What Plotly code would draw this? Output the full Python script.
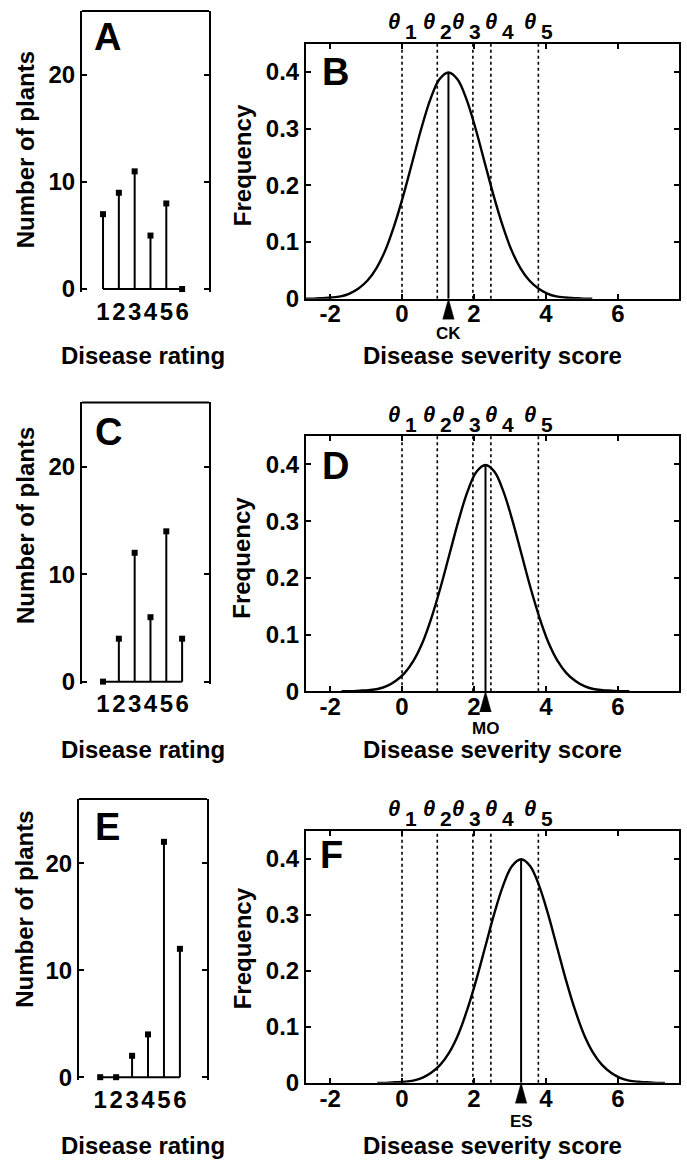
import plotly.graph_objects as go

# ---------------- data ----------------
ratings = [1, 2, 3, 4, 5, 6]
rating_tick_labels = ["1", "2", "3", "4", "5", "6"]
plants_CK = [7, 9, 11, 5, 8, 0]
plants_MO = [0, 4, 12, 6, 14, 4]
plants_ES = [0, 0, 2, 4, 22, 12]
count_ticks = [0, 10, 20]
count_tick_labels = ["0", "10", "20"]

thresholds = [0.0, 0.98, 1.97, 2.47, 3.79]
threshold_subscripts = ["1", "2", "3", "4", "5"]
severity_ticks = [-2, 0, 2, 4, 6]
severity_tick_labels = ["-2", "0", "2", "4", "6"]
freq_ticks = [0, 0.1, 0.2, 0.3, 0.4]
freq_tick_labels = ["0", "0.1", "0.2", "0.3", "0.4"]

groups = ["CK", "MO", "ES"]
group_means = [1.29, 2.32, 3.31]
group_counts = [plants_CK, plants_MO, plants_ES]
letters_left = ["A", "C", "E"]
letters_right = ["B", "D", "F"]

# density profile (offset from the group mean -> frequency)
curve_offsets = [-4.0, -3.75, -3.5, -3.25, -3.0, -2.75, -2.5, -2.25, -2.0, -1.75,
                 -1.5, -1.25, -1.0, -0.75, -0.5, -0.25, 0.0, 0.25, 0.5, 0.75,
                 1.0, 1.25, 1.5, 1.75, 2.0, 2.25, 2.5, 2.75, 3.0, 3.25, 3.5,
                 3.75, 4.0]
curve_density = [0.000, 0.000, 0.001, 0.002, 0.004, 0.009, 0.018, 0.032, 0.054,
                 0.086, 0.130, 0.183, 0.242, 0.301, 0.352, 0.387, 0.399, 0.387,
                 0.352, 0.301, 0.242, 0.183, 0.130, 0.086, 0.054, 0.032, 0.018,
                 0.009, 0.004, 0.002, 0.001, 0.000, 0.000]

# ---------------- layout (pixels of the 687x1171 page) ----------------
W, H = 687, 1171
FONT = "Liberation Sans"
COUNT_RANGE = [-0.25, 26]
RATING_RANGE = [-0.33, 7.7]
SEV_RANGE = [-2.67, 7.7]
FREQ_RANGE = [0, 0.45]

rows = [
    dict(left=(82, 209, 11, 295), right=(306, 679, 44, 302),
         letL=(92, 37), letR=(320, 73), ytitL=152, ytitR=167,
         xtit=359, glab=35),
    dict(left=(82, 209, 407, 692), right=(306, 679, 441, 699),
         letL=(93, 437), letR=(320, 471), ytitL=532, ytitR=564,
         xtit=758, glab=37),
    dict(left=(79, 207, 808, 1092), right=(306, 679, 840, 1095),
         letL=(93, 836), letR=(318, 865), ytitL=920, ytitR=959,
         xtit=1158, glab=39),
]
theta_shift = [0, 0, -7, 8, 0]


def px(x):
    return x / W


def py(y):
    return 1 - y / H


def ax_names(n):
    s = "" if n == 1 else str(n)
    return "x" + s, "y" + s, "xaxis" + s, "yaxis" + s


fig = go.Figure()
layout = {}
shapes = []
annotations = []
black = "black"
tickfont = dict(family=FONT, size=24, color=black, weight="bold")

for i, row in enumerate(rows):
    counts = group_counts[i]
    mean = group_means[i]
    nL, nR, nT = 2 * i + 1, 2 * i + 2, 7 + i
    xL, yL, kxL, kyL = ax_names(nL)
    xR, yR, kxR, kyR = ax_names(nR)
    xT, yT, kxT, kyT = ax_names(nT)

    # ----- left panel: stem plot -----
    l, r, t, b = row["left"]
    layout[kxL] = dict(domain=[px(l), px(r)], range=RATING_RANGE, anchor=yL,
                       tickvals=ratings, ticktext=rating_tick_labels, ticks="",
                       showline=False, showgrid=False, zeroline=False,
                       tickfont=tickfont, ticklabelstandoff=3)
    layout[kyL] = dict(domain=[py(b), py(t)], range=COUNT_RANGE, anchor=xL,
                       tickvals=count_ticks, ticktext=count_tick_labels,
                       ticks="inside", ticklen=5, tickwidth=1.5, tickcolor=black,
                       showline=True, linewidth=2, linecolor=black, mirror="ticks",
                       showgrid=False, zeroline=False, tickfont=tickfont)
    shapes.append(dict(type="line", xref=xL + " domain", yref=yL + " domain",
                       x0=0, x1=1, y0=1, y1=1, line=dict(color=black, width=2)))
    sx, sy = [], []
    for rt, v in zip(ratings, counts):
        sx += [rt, rt, None]
        sy += [0, v, None]
    fig.add_trace(go.Scatter(x=sx, y=sy, mode="lines", xaxis=xL, yaxis=yL,
                             line=dict(color=black, width=2), hoverinfo="skip",
                             showlegend=False))
    fig.add_trace(go.Scatter(x=[ratings[0], ratings[-1]], y=[0, 0], mode="lines",
                             xaxis=xL, yaxis=yL, line=dict(color=black, width=2),
                             hoverinfo="skip", showlegend=False))
    fig.add_trace(go.Scatter(x=ratings, y=counts, mode="markers", xaxis=xL, yaxis=yL,
                             marker=dict(symbol="square", size=6, color=black),
                             cliponaxis=False, showlegend=False))

    # ----- right panel: latent severity distribution -----
    l2, r2, t2, b2 = row["right"]
    layout[kxR] = dict(domain=[px(l2), px(r2)], range=SEV_RANGE, anchor=yR,
                       tickvals=severity_ticks, ticktext=severity_tick_labels,
                       ticks="inside", ticklen=5, tickwidth=1.5, tickcolor=black,
                       showline=True, linewidth=2, linecolor=black, mirror="ticks",
                       showgrid=False, zeroline=False, tickfont=tickfont,
                       ticklabelstandoff=-7)
    layout[kyR] = dict(domain=[py(b2), py(t2)], range=FREQ_RANGE, anchor=xR,
                       tickvals=freq_ticks, ticktext=freq_tick_labels,
                       ticks="inside", ticklen=5, tickwidth=1.5, tickcolor=black,
                       showline=True, linewidth=2, linecolor=black, mirror="ticks",
                       showgrid=False, zeroline=False, tickfont=tickfont)
    for j, th in enumerate(thresholds):
        shapes.append(dict(type="line", xref=xR, yref=yR + " domain", x0=th, x1=th,
                           y0=0, y1=1, line=dict(color=black, width=1.6, dash="dot")))
        annotations.append(dict(text="θ", xref=xR, x=th, xanchor="right",
                                xshift=theta_shift[j], yref=yR + " domain", y=1,
                                yanchor="middle", yshift=22, showarrow=False,
                                font=dict(family=FONT, size=22, color=black,
                                          weight="bold", style="italic")))
        annotations.append(dict(text=threshold_subscripts[j], xref=xR, x=th,
                                xanchor="left", xshift=theta_shift[j] + 1,
                                yref=yR + " domain", y=1, yanchor="middle",
                                yshift=12, showarrow=False,
                                font=dict(family=FONT, size=21, color=black,
                                          weight="bold")))
    fig.add_trace(go.Scatter(x=[mean + o for o in curve_offsets], y=curve_density,
                             mode="lines", xaxis=xR, yaxis=yR,
                             line=dict(color=black, width=2.4, shape="spline",
                                       smoothing=1.0),
                             hoverinfo="skip", showlegend=False))
    fig.add_trace(go.Scatter(x=[mean, mean], y=[0, max(curve_density)], mode="lines",
                             xaxis=xR, yaxis=yR, line=dict(color=black, width=2),
                             hoverinfo="skip", showlegend=False))

    # ----- pointer triangle under the axis (hidden helper axes, same x scale) -----
    layout[kxT] = dict(domain=[px(l2), px(r2)], range=SEV_RANGE, anchor=yT,
                       visible=False, showgrid=False, zeroline=False)
    layout[kyT] = dict(domain=[py(b2 + 21), py(b2)], range=[-1, 0], anchor=xT,
                       visible=False, showgrid=False, zeroline=False)
    hw = 0.16
    fig.add_trace(go.Scatter(x=[mean - hw, mean, mean + hw, mean - hw],
                             y=[-1, 0, -1, -1], mode="lines", fill="toself",
                             fillcolor=black, line=dict(color=black, width=0.5),
                             xaxis=xT, yaxis=yT, hoverinfo="skip",
                             showlegend=False))
    annotations.append(dict(text=groups[i], xref=xR, x=mean, yref=yR + " domain",
                            y=0, yanchor="middle", yshift=-row["glab"],
                            showarrow=False, borderpad=0,
                            font=dict(family=FONT, size=17, color=black,
                                      weight="bold")))

    # ----- panel letters -----
    lf = dict(family=FONT, size=38, color=black, weight="bold")
    annotations.append(dict(text=letters_left[i], xref="paper", yref="paper",
                            x=px(row["letL"][0]), y=py(row["letL"][1]),
                            xanchor="left", yanchor="middle", showarrow=False, font=lf))
    annotations.append(dict(text=letters_right[i], xref="paper", yref="paper",
                            x=px(row["letR"][0]), y=py(row["letR"][1]),
                            xanchor="left", yanchor="middle", showarrow=False, font=lf))

    # ----- axis titles -----
    tf = dict(family=FONT, size=24, color=black, weight="bold")
    annotations.append(dict(text="Number of plants", textangle=-90, xref="paper",
                            yref="paper", x=px(25), y=py(row["ytitL"]),
                            xanchor="center", yanchor="middle", showarrow=False,
                            font=tf))
    annotations.append(dict(text="Frequency", textangle=-90, xref="paper",
                            yref="paper", x=px(242), y=py(row["ytitR"]),
                            xanchor="center", yanchor="middle", showarrow=False,
                            font=tf))
    annotations.append(dict(text="Disease rating", xref="paper", yref="paper",
                            x=px(143), y=py(row["xtit"]), xanchor="center",
                            yanchor="middle", showarrow=False, font=tf))
    annotations.append(dict(text="Disease severity score", xref="paper",
                            yref="paper", x=px(492), y=py(row["xtit"]),
                            xanchor="center", yanchor="middle", showarrow=False,
                            borderpad=0, font=tf))

fig.update_layout(width=W, height=H, margin=dict(l=0, r=0, t=0, b=0),
                  paper_bgcolor="white", plot_bgcolor="rgba(0,0,0,0)",
                  font=dict(family=FONT, color=black), showlegend=False,
                  shapes=shapes, annotations=annotations, **layout)

fig.write_html("out.html")
